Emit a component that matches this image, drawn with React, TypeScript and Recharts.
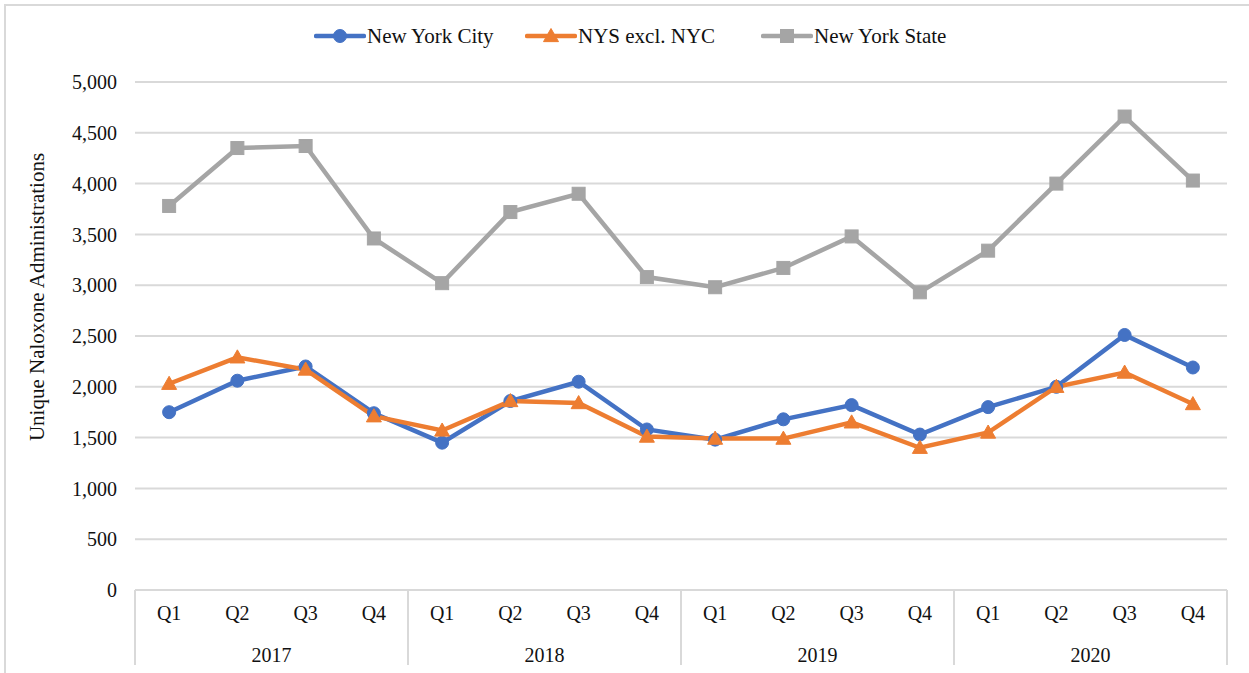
import React from 'react';
import { LineChart, Line, XAxis, YAxis, CartesianGrid } from 'recharts';

const quarters = ['Q1', 'Q2', 'Q3', 'Q4', 'Q1', 'Q2', 'Q3', 'Q4', 'Q1', 'Q2', 'Q3', 'Q4', 'Q1', 'Q2', 'Q3', 'Q4'];
const years = ['2017', '2018', '2019', '2020'];
const nycValues = [1750, 2060, 2200, 1740, 1450, 1860, 2050, 1580, 1480, 1680, 1820, 1530, 1800, 2000, 2510, 2190];
const nysExclNycValues = [2030, 2290, 2170, 1710, 1570, 1860, 1840, 1510, 1490, 1490, 1650, 1400, 1550, 2000, 2140, 1830];
const nysValues = [3780, 4350, 4370, 3460, 3020, 3720, 3900, 3080, 2980, 3170, 3480, 2930, 3340, 4000, 4660, 4030];
const yTicks = [0, 500, 1000, 1500, 2000, 2500, 3000, 3500, 4000, 4500, 5000];

const series = [
  { key: 'nyc', name: 'New York City', color: '#4472C4', marker: 'circle' },
  { key: 'upstate', name: 'NYS excl. NYC', color: '#ED7D31', marker: 'triangle' },
  { key: 'nys', name: 'New York State', color: '#A5A5A5', marker: 'square' },
];
const legendSlotWidths = [211, 236, 200];

const data = quarters.map((q, i) => ({
  q,
  year: years[Math.floor(i / 4)],
  nyc: nycValues[i],
  upstate: nysExclNycValues[i],
  nys: nysValues[i],
}));

const W = 1249;
const H = 673;
const M_TOP = 82;
const M_RIGHT = 22;
const Y_W = 135;
const QX_H = 40;
const YX_H = 43;
const PLOT_W = W - M_RIGHT - Y_W;
const BAND = PLOT_W / quarters.length;
const HALF = BAND / 2;
const FONT = "'Liberation Serif', 'Times New Roman', serif";
const GRID = '#d9d9d9';
const TXT = '#111';

function Marker({ cx, cy, type, color }: any) {
  if (cx == null || cy == null) return null;
  if (type === 'circle') return <circle cx={cx} cy={cy} r={6.5} fill={color} stroke={color} />;
  if (type === 'triangle') {
    const s = 7.5;
    return <polygon points={`${cx},${cy - s} ${cx + s},${cy + s * 0.75} ${cx - s},${cy + s * 0.75}`} fill={color} stroke={color} />;
  }
  return <rect x={cx - 6.5} y={cy - 6.5} width={13} height={13} fill={color} stroke={color} />;
}

function QuarterTick(props: any) {
  const { x, y, payload } = props;
  return (
    <text x={x} y={y} dy="0.71em" textAnchor="middle" style={{ fontFamily: FONT }} fontSize={20} fill={TXT}>
      {payload.value}
    </text>
  );
}

function ValueTick(props: any) {
  const { x, y, payload } = props;
  return (
    <text x={x} y={y} dy="0.355em" textAnchor="end" style={{ fontFamily: FONT }} fontSize={20} fill={TXT}>
      {Number(payload.value).toLocaleString('en-US')}
    </text>
  );
}

function YearTick(props: any) {
  const { x, y, payload } = props;
  const i = payload.index;
  const top = y - QX_H;
  const bottom = y + 35;
  return (
    <g>
      {i % 4 === 0 && <line x1={x - HALF} x2={x - HALF} y1={top} y2={bottom} stroke={GRID} strokeWidth={2} />}
      {i === quarters.length - 1 && <line x1={x + HALF} x2={x + HALF} y1={top} y2={bottom} stroke={GRID} strokeWidth={2} />}
      {i % 4 === 1 && (
        <text x={x + HALF} y={y + 32} textAnchor="middle" style={{ fontFamily: FONT }} fontSize={20} fill={TXT}>
          {data[i].year}
        </text>
      )}
    </g>
  );
}

function LegendIcon({ color, marker }: any) {
  return (
    <svg width={52} height={18} style={{ display: 'block', flex: 'none' }}>
      <line x1={2} x2={50} y1={9} y2={9} stroke={color} strokeWidth={4.5} strokeLinecap="round" />
      <Marker cx={26} cy={9} type={marker} color={color} />
    </svg>
  );
}

export default function App() {
  return (
    <div style={{ position: 'absolute', left: 0, top: 0, width: W, height: H, background: '#fff', overflow: 'hidden', fontFamily: FONT }}>
      <div style={{ position: 'absolute', left: 4, top: 4, width: W + 20, height: H + 20, borderTop: `2px solid ${GRID}`, borderLeft: `2px solid ${GRID}` }} />
      <div style={{ position: 'absolute', left: 314, top: 24, display: 'flex', alignItems: 'center', fontSize: 21, color: TXT, fontFamily: FONT }}>
        {series.map((s, idx) => (
          <div key={s.key} style={{ display: 'flex', alignItems: 'center', width: legendSlotWidths[idx], whiteSpace: 'nowrap' }}>
            <LegendIcon color={s.color} marker={s.marker} />
            <span style={{ marginLeft: 1, lineHeight: '24px', fontFamily: FONT }}>{s.name}</span>
          </div>
        ))}
      </div>
      <LineChart width={W} height={H} data={data} margin={{ top: M_TOP, right: M_RIGHT, bottom: 0, left: 0 }} style={{ position: 'absolute', left: 0, top: 0 }}>
        <CartesianGrid vertical={false} stroke={GRID} strokeWidth={2} />
        <XAxis dataKey="q" padding={{ left: HALF, right: HALF }} height={QX_H} interval={0} tickLine={false} tickSize={0} tickMargin={16} axisLine={{ stroke: GRID, strokeWidth: 2 }} tick={<QuarterTick />} />
        <XAxis xAxisId="year" dataKey="year" padding={{ left: HALF, right: HALF }} allowDuplicatedCategory={true} height={YX_H} interval={0} tickLine={false} tickSize={0} tickMargin={0} axisLine={false} tick={<YearTick />} />
        <YAxis
          width={Y_W}
          domain={[0, 5000]}
          ticks={yTicks}
          interval={0}
          axisLine={false}
          tickLine={false}
          tickSize={0}
          tickMargin={18}
          tick={<ValueTick />}
          label={{
            content: () => (
              <text x={44} y={297} transform="rotate(-90 44 297)" textAnchor="middle" style={{ fontFamily: FONT }} fontSize={21} fill={TXT}>
                Unique Naloxone Administrations
              </text>
            ),
          }}
        />
        {series.map((s) => (
          <Line
            key={s.key}
            type="linear"
            dataKey={s.key}
            name={s.name}
            stroke={s.color}
            strokeWidth={4.5}
            isAnimationActive={false}
            dot={(p: any) => <Marker key={`${s.key}-${p.index}`} cx={p.cx} cy={p.cy} type={s.marker} color={s.color} />}
            activeDot={false}
          />
        ))}
      </LineChart>
    </div>
  );
}
